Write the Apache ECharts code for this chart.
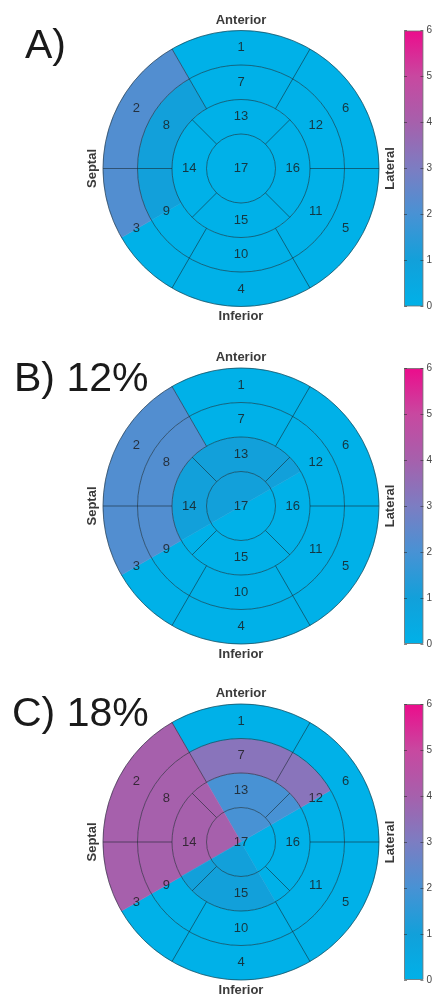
<!DOCTYPE html>
<html>
<head>
<meta charset="utf-8">
<script src="https://cdn.jsdelivr.net/npm/echarts/dist/echarts.min.js"></script>
<style>
  html, body { margin: 0; padding: 0; background: #ffffff; }
  #chart { width: 435px; height: 994px; }
</style>
</head>
<body>
<div id="chart"></div>
<script>
// ---- data -------------------------------------------------------------
// 30-degree bins around the short axis, counter-clockwise from the lateral wall (0 deg)
const binStarts = [0, 30, 60, 90, 120, 150, 180, 210, 240, 270, 300, 330];
const binWidth = 30;
// rows: apex cap (17), apical ring, mid ring, basal ring
const panelA = [
  [0, 0, 0, 0, 0,   0,   0,   0, 0, 0, 0, 0],
  [0, 0, 0, 0, 0,   0,   0,   0, 0, 0, 0, 0],
  [0, 0, 0, 0, 1.0, 1.0, 1.0, 0, 0, 0, 0, 0],
  [0, 0, 0, 0, 2.2, 2.2, 2.2, 0, 0, 0, 0, 0]
];
const panelB = [
  [0, 1.0, 1.0, 1.0, 1.0, 1.0, 1.0, 0, 0, 0, 0, 0],
  [0, 1.0, 1.0, 1.0, 1.0, 1.0, 1.0, 0, 0, 0, 0, 0],
  [0, 0,   0,   0,   2.2, 2.2, 2.2, 0, 0, 0, 0, 0],
  [0, 0,   0,   0,   2.2, 2.2, 2.2, 0, 0, 0, 0, 0]
];
const panelC = [
  [0, 2.0, 2.0, 2.0, 4.0, 4.0, 4.0, 1.0, 1.0, 1.0, 0, 0],
  [0, 2.0, 2.0, 2.0, 4.0, 4.0, 4.0, 1.0, 1.0, 1.0, 0, 0],
  [0, 3.3, 3.3, 3.3, 4.0, 4.0, 4.0, 0,   0,   0,   0, 0],
  [0, 0,   0,   0,   4.0, 4.0, 4.0, 0,   0,   0,   0, 0]
];
const panelTitles = ['A)', 'B) 12%', 'C) 18%'];
const wallNames = ['Anterior', 'Septal', 'Inferior', 'Lateral'];
const colorTicks = [0, 1, 2, 3, 4, 5, 6];
const colormap = ['#00b1e8', '#12a0da', '#4892d4', '#7c7dc2', '#a660ac', '#c848a0', '#ec0c8c'];

// AHA 17-segment numbering: [label radius, centre angle, number]
const segmentLabels = [
  [3.5, 90, '1'], [3.5, 150, '2'], [3.5, 210, '3'], [3.5, 270, '4'], [3.5, 330, '5'], [3.5, 30, '6'],
  [2.5, 90, '7'], [2.5, 150, '8'], [2.5, 210, '9'], [2.5, 270, '10'], [2.5, 330, '11'], [2.5, 30, '12'],
  [1.5, 90, '13'], [1.5, 180, '14'], [1.5, 270, '15'], [1.5, 0, '16'],
  [0, 0, '17']
];
// ring outlines and segment dividers: [from radius, angle, to radius]
const ringRadii = [1, 2, 3, 4];
const dividers = [
  [2, 0, 4], [2, 60, 4], [2, 120, 4], [2, 180, 4], [2, 240, 4], [2, 300, 4],
  [1, 45, 2], [1, 135, 2], [1, 225, 2], [1, 315, 2]
];

// ---- layout -----------------------------------------------------------
const panels = [panelA, panelB, panelC];
const centreX = 241;
const centreY = [168.5, 506, 842];
const plotR = 138;
const FONT = '"Liberation Sans", Arial, Helvetica, sans-serif';
const LINE = 'rgba(20, 35, 40, 0.55)';

const chart = echarts.init(document.getElementById('chart'), null, { renderer: 'canvas' });

function dist(p, cx, cy) { return Math.hypot(p[0] - cx, p[1] - cy); }
function ang(p, cx, cy) { return Math.atan2(p[1] - cy, p[0] - cx); }

// join neighbouring bins of equal value into one wedge: [ring, start, value, end]
function wedges(values) {
  const out = [];
  values.forEach((row, ring) => {
    const runs = [];
    row.forEach((v, b) => {
      const last = runs[runs.length - 1];
      if (last && last[2] === v) last[3] = binStarts[b] + binWidth;
      else runs.push([ring, binStarts[b], v, binStarts[b] + binWidth]);
    });
    if (runs.length > 1 && runs[0][2] === runs[runs.length - 1][2]) {
      const tail = runs.pop();
      runs[0] = [ring, tail[1], tail[2], runs[0][3] + 360];
    }
    runs.forEach(r => out.push(r));
  });
  return out;
}

function heatItem(params, api) {
  const cs = params.coordSys;
  const ring = api.value(0);
  const pIn = api.coord([ring, api.value(1)]);
  const pOut = api.coord([ring + 1, api.value(1)]);
  const pEnd = api.coord([ring + 1, api.value(3)]);
  const s = ang(pOut, cs.cx, cs.cy);
  let d = s - ang(pEnd, cs.cx, cs.cy);
  while (d <= 1e-6) d += Math.PI * 2;
  const color = api.visual('color');
  return {
    type: 'sector',
    shape: {
      cx: cs.cx, cy: cs.cy,
      r0: dist(pIn, cs.cx, cs.cy), r: dist(pOut, cs.cx, cs.cy),
      startAngle: s, endAngle: s - d, clockwise: false
    },
    style: { fill: color, stroke: color, lineWidth: 0.5 }
  };
}

function ringItem(params, api) {
  const cs = params.coordSys;
  const p = api.coord([api.value(0), 0]);
  return {
    type: 'circle',
    shape: { cx: cs.cx, cy: cs.cy, r: dist(p, cs.cx, cs.cy) },
    style: { fill: 'none', stroke: LINE, lineWidth: 1 }
  };
}

function dividerItem(params, api) {
  const a = api.value(1);
  const p1 = api.coord([api.value(0), a]);
  const p2 = api.coord([api.value(2), a]);
  return {
    type: 'line',
    shape: { x1: p1[0], y1: p1[1], x2: p2[0], y2: p2[1] },
    style: { stroke: LINE, lineWidth: 1 }
  };
}

function labelItem(params, api) {
  const p = api.coord([api.value(0), api.value(1)]);
  return {
    type: 'text',
    x: p[0], y: p[1],
    style: {
      text: segmentLabels[params.dataIndex][2],
      fill: 'rgba(25, 25, 25, 0.8)',
      fontSize: 13, fontFamily: FONT,
      align: 'center', verticalAlign: 'middle'
    }
  };
}

const polar = [], angleAxis = [], radiusAxis = [];
const grid = [], xAxis = [], yAxis = [];
const series = [], heatSeries = [], graphic = [];

const barGradient = {
  type: 'linear', x: 0, y: 1, x2: 0, y2: 0,
  colorStops: colormap.map((c, i) => ({ offset: i / (colormap.length - 1), color: c }))
};

panels.forEach((values, i) => {
  const cy = centreY[i];
  polar.push({ center: [centreX, cy], radius: [0, plotR] });
  angleAxis.push({
    polarIndex: i, type: 'value', min: 0, max: 360, startAngle: 0, clockwise: false,
    axisLine: { show: false }, axisTick: { show: false }, axisLabel: { show: false },
    splitLine: { show: false }, splitArea: { show: false }
  });
  radiusAxis.push({
    polarIndex: i, type: 'value', min: 0, max: ringRadii.length,
    axisLine: { show: false }, axisTick: { show: false }, axisLabel: { show: false },
    splitLine: { show: false }, splitArea: { show: false }
  });

  heatSeries.push(series.length);
  series.push({
    type: 'custom', coordinateSystem: 'polar', polarIndex: i,
    renderItem: heatItem, data: wedges(values), silent: true, z: 1
  });
  series.push({
    type: 'custom', coordinateSystem: 'polar', polarIndex: i,
    renderItem: ringItem, data: ringRadii.map(r => [r, 0]), silent: true, z: 2
  });
  series.push({
    type: 'custom', coordinateSystem: 'polar', polarIndex: i,
    renderItem: dividerItem, data: dividers, silent: true, z: 2
  });
  series.push({
    type: 'custom', coordinateSystem: 'polar', polarIndex: i,
    renderItem: labelItem, data: segmentLabels.map(s => [s[0], s[1]]), silent: true, z: 3
  });

  // colour bar
  grid.push({ left: 404, top: cy - plotR, width: 22, height: plotR * 2 });
  xAxis.push({ gridIndex: i, type: 'category', data: ['scale'], show: false });
  const tickCommon = {
    gridIndex: i, type: 'value', min: colorTicks[0], max: colorTicks[colorTicks.length - 1],
    interval: 1, z: 5, axisLine: { show: false }, splitLine: { show: false },
    axisTick: { show: true, inside: true, length: 3, lineStyle: { color: 'rgba(40,40,40,0.55)', width: 1 } }
  };
  yAxis.push(Object.assign({}, tickCommon, {
    position: 'right',
    axisLabel: { show: true, fontSize: 10, color: '#444', margin: 3, fontFamily: FONT }
  }));
  yAxis.push(Object.assign({}, tickCommon, { position: 'left', axisLabel: { show: false } }));
  series.push({
    type: 'bar', xAxisIndex: i, yAxisIndex: 2 * i,
    data: [colorTicks[colorTicks.length - 1]], barWidth: '100%', silent: true,
    itemStyle: { color: barGradient, borderColor: 'rgba(110,110,110,0.8)', borderWidth: 1 }
  });

  // panel title and wall names
  const titleX = [25, 14, 12][i];
  const titleY = [46.5, 380, 714.5][i];
  graphic.push({
    type: 'text', x: titleX, y: titleY, silent: true,
    style: { text: panelTitles[i], fill: '#1a1a1a', fontSize: 41, fontFamily: FONT, verticalAlign: 'middle' }
  });
  const wallStyle = { fill: '#3a3a3a', fontSize: 13, fontWeight: 'bold', fontFamily: FONT, align: 'center', verticalAlign: 'middle' };
  graphic.push({ type: 'text', x: centreX, y: cy - plotR - 10.5, silent: true, style: Object.assign({ text: wallNames[0] }, wallStyle) });
  graphic.push({ type: 'text', x: centreX - plotR - 10.5, y: cy, rotation: Math.PI / 2, silent: true, style: Object.assign({ text: wallNames[1] }, wallStyle) });
  graphic.push({ type: 'text', x: centreX, y: cy + plotR + 10, silent: true, style: Object.assign({ text: wallNames[2] }, wallStyle) });
  graphic.push({ type: 'text', x: centreX + plotR + 11, y: cy, rotation: Math.PI / 2, silent: true, style: Object.assign({ text: wallNames[3] }, wallStyle) });
});

chart.setOption({
  animation: false,
  backgroundColor: '#ffffff',
  polar, angleAxis, radiusAxis,
  grid, xAxis, yAxis,
  visualMap: {
    type: 'continuous', show: false, seriesIndex: heatSeries, dimension: 2,
    min: colorTicks[0], max: colorTicks[colorTicks.length - 1],
    inRange: { color: colormap }
  },
  graphic,
  series
});
</script>
</body>
</html>
